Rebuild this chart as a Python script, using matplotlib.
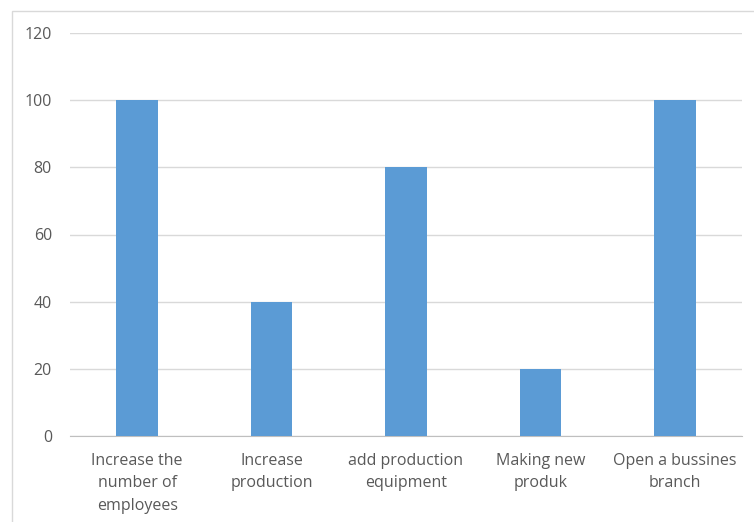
import matplotlib
matplotlib.use('agg')
import matplotlib.pyplot as plt
from matplotlib.patches import Rectangle

categories = ['Increase the\nnumber of\nemployees', 'Increase\nproduction',
              'add production\nequipment', 'Making new\nproduk', 'Open a bussines\nbranch']
values = [100, 40, 80, 20, 100]
yticks = [0, 20, 40, 60, 80, 100, 120]

W, H = 754, 522
fig = plt.figure(figsize=(W / 100, H / 100), dpi=100)
plt.rcParams['font.family'] = ['Open Sans', 'DejaVu Sans']

# chart border (cropped at right/bottom)
fig.patches.append(Rectangle((12 / W, -0.1), 1.2, 1 - 11 / H + 0.1, transform=fig.transFigure,
                             fill=False, edgecolor='#d9d9d9', linewidth=1))

ax = fig.add_axes([70 / W, 1 - 436 / H, (742 - 70) / W, (436 - 33) / H])
x = range(len(categories))
ax.bar(x, values, width=0.31, color='#5b9bd5', zorder=3)
ax.set_xlim(-0.5, len(categories) - 0.5)
ax.set_ylim(0, 120)
ax.set_yticks(yticks)
ax.set_xticks(list(x))
ax.set_xticklabels(categories, linespacing=1.55)
ax.grid(axis='y', color='#d9d9d9', linewidth=1, zorder=0)
for s in ['top', 'right', 'left']:
    ax.spines[s].set_visible(False)
ax.spines['bottom'].set_color('#bfbfbf')
ax.tick_params(axis='both', length=0, labelsize=11.5, labelcolor='#595959')
ax.tick_params(axis='y', pad=13)
ax.tick_params(axis='x', pad=12)

plt.savefig('out.png', dpi=100)
